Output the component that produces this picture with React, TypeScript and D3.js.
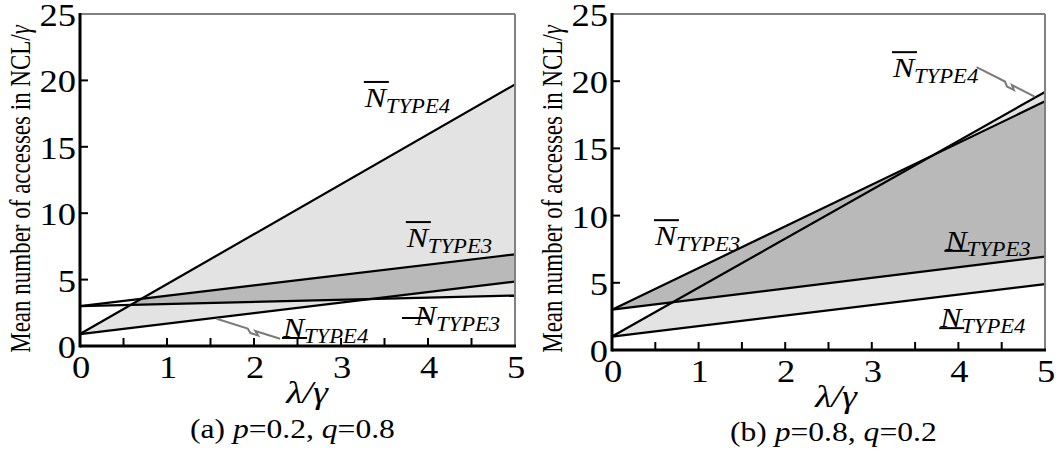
import React from "react";
import * as d3 from "d3";

// λ/γ sample points (lines are straight between the two ends)
const lambda = [0, 5];

// (a) p=0.2, q=0.8
const upper4A = [0.9, 19.7];
const lower4A = [0.9, 4.85];
const upper3A = [3.0, 6.9];
const lower3A = [3.0, 3.8];

// (b) p=0.8, q=0.2
const upper4B = [1.0, 19.2];
const lower4B = [1.0, 4.9];
const upper3B = [3.0, 18.5];
const lower3B = [3.0, 6.95];

const xTickLabels = [0, 1, 2, 3, 4, 5];
const xMinorTicks = [0.5, 1, 1.5, 2, 2.5, 3, 3.5, 4, 4.5];
const yTickLabels = [0, 5, 10, 15, 20, 25];
const yInnerTicks = [5, 10, 15, 20];

const FONT = "Liberation Serif";
const LIGHT = "#e3e3e3";
const DARK = "#b9b9b9";
const FRAME = "#808080";

type Txt = {
  x: number;
  y: number;
  size: number;
  sx?: number;
  italic?: boolean;
  anchor?: string;
  rotate?: boolean;
  children: React.ReactNode;
};

function T({ x, y, size, sx = 1, italic, anchor = "start", rotate, children }: Txt) {
  const tr = rotate
    ? `translate(${x},${y}) rotate(-90) scale(1,${sx})`
    : `translate(${x},${y}) scale(${sx},1)`;
  return (
    <text
      transform={tr}
      style={{ fontFamily: FONT, fontSize: size, fontStyle: italic ? "italic" : "normal" }}
      textAnchor={anchor}
      fill="#000"
    >
      {children}
    </text>
  );
}

type LabelSpec = {
  lam: number;
  val: number;
  sub: string;
  bar: "over" | "under";
  barDx?: number;
  barDy?: number;
};

function NLabel({ x, y, spec }: { x: number; y: number; spec: LabelSpec }) {
  const barY =
    spec.bar === "over" ? y - 25 + (spec.barDy ?? 0) : y + 1 + (spec.barDy ?? 0);
  const bx = x + (spec.barDx ?? 0);
  return (
    <g>
      <T x={x} y={y} size={28} sx={1.14} italic>
        N
      </T>
      <T x={x + 21} y={y + 6} size={21} sx={1.08} italic>
        {spec.sub}
      </T>
      <line x1={bx - 1} x2={bx + 24} y1={barY} y2={barY} stroke="#000" strokeWidth={2} />
    </g>
  );
}

type PanelProps = {
  id: string;
  left: number;
  right: number;
  top: number;
  bottom: number;
  upper4: number[];
  lower4: number[];
  upper3: number[];
  lower3: number[];
  mode: "a" | "b";
  labels: LabelSpec[];
  leader: { from: [number, number]; to: [number, number] };
  yTitleX: number;
  xTitleX: number;
  caption: [string, string, string];
  captionX: number;
  captionY: number;
};

function Panel(p: PanelProps) {
  const x = d3.scaleLinear().domain([0, 5]).range([p.left, p.right]);
  const y = d3.scaleLinear().domain([0, 25]).range([p.bottom, p.top]);

  const band = (lo: number[], hi: number[]) =>
    d3
      .area<number>()
      .x((_, i) => x(lambda[i]))
      .y0((_, i) => y(lo[i]))
      .y1((_, i) => y(hi[i]))(lambda) as string;
  const line = (vals: number[]) =>
    d3
      .line<number>()
      .x((_, i) => x(lambda[i]))
      .y((_, i) => y(vals[i]))(lambda) as string;

  const band4 = band(p.lower4, p.upper4);
  const band3 = band(p.lower3, p.upper3);
  const belowLower4 = band(
    lambda.map(() => 0),
    p.lower4
  );

  // leader line with a small zig-zag break
  const [f0, f1] = p.leader.from;
  const [t0, t1] = p.leader.to;
  const ax = x(f0), ay = y(f1), bx = x(t0), by = y(t1);
  const mx = ax + (bx - ax) * 0.55, my = ay + (by - ay) * 0.55;
  const dx = bx - ax, dy = by - ay;
  const len = Math.hypot(dx, dy);
  const nx = -dy / len, ny = dx / len;
  const k = 3.5;
  const leaderPath = `M${ax},${ay}L${mx - dx * 0.06},${my - dy * 0.06}L${mx + nx * k},${my + ny * k}L${mx + dx * 0.12 + nx * k},${my + dy * 0.12 + ny * k}L${mx + dx * 0.06},${my + dy * 0.06}L${bx},${by}`;

  return (
    <g>
      <defs>
        <clipPath id={`${p.id}-b4`}>
          <path d={band4} />
        </clipPath>
        <clipPath id={`${p.id}-under4`}>
          <path d={belowLower4} />
        </clipPath>
      </defs>

      {p.mode === "a" ? (
        <g>
          <path d={band4} fill={LIGHT} />
          <path d={band3} fill={LIGHT} clipPath={`url(#${p.id}-under4)`} />
          <path d={band3} fill={DARK} clipPath={`url(#${p.id}-b4)`} />
        </g>
      ) : (
        <g>
          <path d={band4} fill={LIGHT} />
          <path d={band3} fill={DARK} />
        </g>
      )}

      {[p.upper4, p.lower4, p.upper3, p.lower3].map((v, i) => (
        <path key={i} d={line(v)} fill="none" stroke="#000" strokeWidth={2.2} />
      ))}

      {/* frame: grey top/right, black axes */}
      <line x1={x(0)} x2={x(5)} y1={y(25)} y2={y(25)} stroke={FRAME} strokeWidth={2} />
      <line x1={x(5)} x2={x(5)} y1={y(25)} y2={y(0)} stroke={FRAME} strokeWidth={2} />
      <line x1={x(0)} x2={x(5) + 1} y1={y(0)} y2={y(0)} stroke="#000" strokeWidth={3} />
      <line x1={x(0)} x2={x(0)} y1={y(25) - 1} y2={y(0) + 1.5} stroke="#000" strokeWidth={3} />

      {xMinorTicks.map((t) => (
        <line key={t} x1={x(t)} x2={x(t)} y1={y(0)} y2={y(0) - 8} stroke="#000" strokeWidth={2} />
      ))}
      {yInnerTicks.map((t) => (
        <line key={t} x1={x(0)} x2={x(0) + 8} y1={y(t)} y2={y(t)} stroke="#000" strokeWidth={2} />
      ))}

      {xTickLabels.map((t) => (
        <T key={t} x={x(t) + 1} y={y(0) + 32} size={32} sx={1.14} anchor="middle">
          {t}
        </T>
      ))}
      {yTickLabels.map((t) => (
        <T key={t} x={x(0) - 4} y={y(t) + 12} size={32} sx={1.14} anchor="end">
          {t}
        </T>
      ))}

      <T x={p.yTitleX} y={189} size={23} sx={1.3} rotate anchor="middle">
        Mean number of accesses in NCL/<tspan fontStyle="italic">γ</tspan>
      </T>
      <T x={p.xTitleX} y={p.bottom + 57} size={32} sx={1.18} italic anchor="middle">
        λ/γ
      </T>
      <T x={p.captionX} y={p.captionY} size={27} sx={1.17}>
        {p.caption[0]}
        <tspan fontStyle="italic">p</tspan>
        {p.caption[1]}
        <tspan fontStyle="italic">q</tspan>
        {p.caption[2]}
      </T>

      <path d={leaderPath} fill="none" stroke="#7a7a7a" strokeWidth={2} />

      {p.labels.map((s, i) => (
        <NLabel key={i} x={x(s.lam)} y={y(s.val)} spec={s} />
      ))}
    </g>
  );
}

export default function App() {
  return (
    <svg
      width={1064}
      height={456}
      style={{ position: "absolute", left: 0, top: 0, background: "#fff" }}
    >
      <Panel
        id="pa"
        left={80}
        right={515}
        top={14}
        bottom={346}
        upper4={upper4A}
        lower4={lower4A}
        upper3={upper3A}
        lower3={lower3A}
        mode="a"
        labels={[
          { lam: 3.274, val: 18.0, sub: "TYPE4", bar: "over" },
          { lam: 3.757, val: 7.45, sub: "TYPE3", bar: "over" },
          { lam: 3.85, val: 1.58, sub: "TYPE3", bar: "under", barDx: -12, barDy: -8 },
          { lam: 2.333, val: 0.68, sub: "TYPE4", bar: "under" },
        ]}
        leader={{ from: [1.57, 2.05], to: [2.3, 0.55] }}
        yTitleX={30}
        xTitleX={307}
        caption={["(a) ", "=0.2, ", "=0.8"]}
        captionX={190}
        captionY={438}
      />
      <Panel
        id="pb"
        left={612}
        right={1045}
        top={14}
        bottom={350}
        upper4={upper4B}
        lower4={lower4B}
        upper3={upper3B}
        lower3={lower3B}
        mode="b"
        labels={[
          { lam: 3.245, val: 20.3, sub: "TYPE4", bar: "over" },
          { lam: 0.496, val: 7.8, sub: "TYPE3", bar: "over" },
          { lam: 3.85, val: 7.45, sub: "TYPE3", bar: "under" },
          { lam: 3.79, val: 1.7, sub: "TYPE4", bar: "under" },
        ]}
        leader={{ from: [4.21, 21.05], to: [4.88, 18.85] }}
        yTitleX={562}
        xTitleX={836}
        caption={["(b) ", "=0.8, ", "=0.2"]}
        captionX={730}
        captionY={441}
      />
    </svg>
  );
}
